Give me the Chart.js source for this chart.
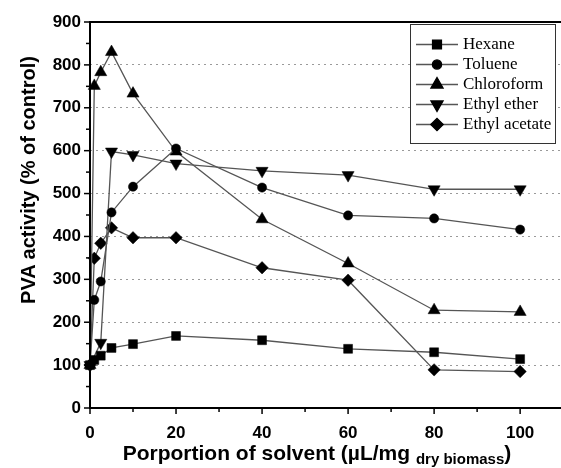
<!DOCTYPE html>
<html>
<head>
<meta charset="utf-8">
<script src="https://cdn.jsdelivr.net/npm/chart.js@4/dist/chart.umd.min.js"></script>
<style>
  html, body { margin: 0; padding: 0; background: #fff; }
  #wrap { position: relative; width: 561px; height: 468px; overflow: hidden; background: #fff; }
  #c { position: absolute; left: 0; top: 0; }
  .ytitle { position: absolute; left: -171px; top: 168px; width: 400px; height: 24px; line-height: 24px;
    text-align: center; transform: rotate(-90deg); transform-origin: 50% 50%;
    font: bold 20px "Liberation Sans", Arial, sans-serif; color: #000; white-space: nowrap; }
  .xtitle { position: absolute; left: 73px; top: 441px; width: 488px; height: 27px; line-height: 24px;
    text-align: center; font: bold 21px "Liberation Sans", Arial, sans-serif; color: #000; white-space: nowrap; }
  .xtitle sub { font-size: 15px; vertical-align: -4px; }
  #legend { position: absolute; left: 410px; top: 24px; width: 146px; height: 120px; border: 1px solid #333;
    background: #fff; padding-top: 9px; box-sizing: border-box; }
  .lrow { height: 20px; display: flex; align-items: center; }
  .lrow canvas { display: block; margin-left: 3px; }
  .lrow span { font: 17px "Liberation Serif", "Times New Roman", serif; color: #000; margin-left: 3px; white-space: nowrap; }
</style>
</head>
<body>
<div id="wrap">
  <canvas id="c" width="561" height="468"></canvas>
  <div class="ytitle">PVA activity (% of control)</div>
  <div class="xtitle">Porportion of solvent (µL/mg <sub>dry biomass</sub>)</div>
  <div id="legend"></div>
</div>
<script>
// ---- data ----
const xValues      = [0, 1, 2.5, 5, 10, 20, 40, 60, 80, 100];
const hexane       = [100, 112, 122, 140, 149, 168, 158, 138, 130, 114];
const toluene      = [100, 252, 295, 456, 516, 605, 514, 449, 442, 416];
const chloroform   = [100, 751, 783, 830, 733, 598, 440, 337, 228, 224];
const ethylEther   = [100, null, 152, 598, 590, 570, 553, 543, 510, 510];
const ethylAcetate = [100, 349, 384, 420, 397, 397, 327, 298, 89, 85];
const seriesNames  = ['Hexane', 'Toluene', 'Chloroform', 'Ethyl ether', 'Ethyl acetate'];
const xTickLabels  = ['0', '20', '40', '60', '80', '100'];
const yTickLabels  = ['0', '100', '200', '300', '400', '500', '600', '700', '800', '900'];

const styles = [
  { pointStyle: 'rect', radius: 6.3, rotation: 0 },
  { pointStyle: 'circle', radius: 4.6, rotation: 0 },
  { pointStyle: 'triangle', radius: 7, rotation: 0 },
  { pointStyle: 'triangle', radius: 7, rotation: 180 },
  { pointStyle: 'rectRot', radius: 6.2, rotation: 0 }
];
const allSeries = [hexane, toluene, chloroform, ethylEther, ethylAcetate];
const LINE = '#555';
const X_MAX = 109.5;

const datasets = allSeries.map((vals, i) => ({
  label: seriesNames[i],
  data: xValues.map((x, j) => ({ x: x, y: vals[j] })),
  borderColor: LINE,
  borderWidth: 1.3,
  backgroundColor: '#000',
  pointBackgroundColor: '#000',
  pointBorderColor: '#000',
  pointBorderWidth: 0.5,
  pointStyle: styles[i].pointStyle,
  pointRadius: styles[i].radius,
  pointRotation: styles[i].rotation,
  pointHoverRadius: styles[i].radius,
  tension: 0,
  spanGaps: true,
  clip: false
}));

const FONT = { family: '"Liberation Sans", Arial, sans-serif', size: 17, weight: 'bold' };

const framePlugin = {
  id: 'frame',
  afterDraw(chart) {
    const { ctx, chartArea: a, scales: { x, y } } = chart;
    ctx.save();
    ctx.strokeStyle = '#000';
    ctx.lineWidth = 1.5;
    for (let v = 0; v <= X_MAX; v += 10) {
      const px = x.getPixelForValue(v);
      const len = (v % 20 === 0) ? 6 : 4;
      ctx.beginPath(); ctx.moveTo(px, a.bottom); ctx.lineTo(px, a.bottom + len); ctx.stroke();
    }
    for (let v = 0; v <= 900; v += 50) {
      const py = y.getPixelForValue(v);
      const len = (v % 100 === 0) ? 6 : 4;
      ctx.beginPath(); ctx.moveTo(a.left, py); ctx.lineTo(a.left - len, py); ctx.stroke();
    }
    ctx.lineWidth = 2;
    ctx.beginPath();
    ctx.moveTo(a.right + 4, a.top); ctx.lineTo(a.left, a.top);
    ctx.lineTo(a.left, a.bottom); ctx.lineTo(a.right + 4, a.bottom);
    ctx.stroke();
    ctx.restore();
  }
};

const chart = new Chart(document.getElementById('c'), {
  type: 'line',
  data: { datasets },
  plugins: [framePlugin],
  options: {
    responsive: false,
    animation: false,
    events: [],
    layout: { autoPadding: false, padding: { top: 22, right: 0, left: 0, bottom: 0 } },
    plugins: { legend: { display: false }, tooltip: { enabled: false }, title: { display: false } },
    scales: {
      x: {
        type: 'linear', min: 0, max: X_MAX,
        afterBuildTicks(s) { s.ticks = xTickLabels.map(t => ({ value: Number(t) })); },
        ticks: { font: FONT, color: '#000', padding: 15, maxRotation: 0, autoSkip: false,
                 callback: (v) => xTickLabels.includes(String(v)) ? String(v) : '' },
        grid: { display: false, drawTicks: false },
        border: { display: false },
        afterFit(s) { s.height = 60; s.paddingRight = 0; s.paddingLeft = 0; }
      },
      y: {
        type: 'linear', min: 0, max: 900,
        afterBuildTicks(s) { s.ticks = yTickLabels.map(t => ({ value: Number(t) })); },
        ticks: { font: FONT, color: '#000', padding: 9, autoSkip: false,
                 callback: (v) => String(v) },
        grid: {
          drawTicks: false, lineWidth: 1,
          color: (c) => (c.tick && c.tick.value > 0 && c.tick.value < 900) ? '#9a9a9a' : 'rgba(0,0,0,0)'
        },
        border: { display: false, dash: [2, 4] },
        afterFit(s) { s.width = 90; s.paddingTop = 0; s.paddingBottom = 0; }
      }
    }
  }
});

// ---- legend built from the datasets ----
const legendEl = document.getElementById('legend');
chart.data.datasets.forEach((ds, i) => {
  const row = document.createElement('div');
  row.className = 'lrow';
  const cv = document.createElement('canvas');
  cv.width = 46; cv.height = 20;
  const g = cv.getContext('2d');
  g.strokeStyle = LINE; g.lineWidth = 1.3;
  g.beginPath(); g.moveTo(2, 10.5); g.lineTo(44, 10.5); g.stroke();
  g.fillStyle = '#000'; g.strokeStyle = '#000';
  const st = styles[i];
  try {
    Chart.helpers.drawPoint(g, { pointStyle: st.pointStyle, rotation: st.rotation, radius: st.radius, borderWidth: 0.5 }, 23, 10.5);
  } catch (e) {
    g.beginPath(); g.arc(23, 10.5, 4.5, 0, Math.PI * 2); g.fill();
  }
  const sp = document.createElement('span');
  sp.textContent = ds.label;
  row.appendChild(cv); row.appendChild(sp);
  legendEl.appendChild(row);
});
</script>
</body>
</html>
